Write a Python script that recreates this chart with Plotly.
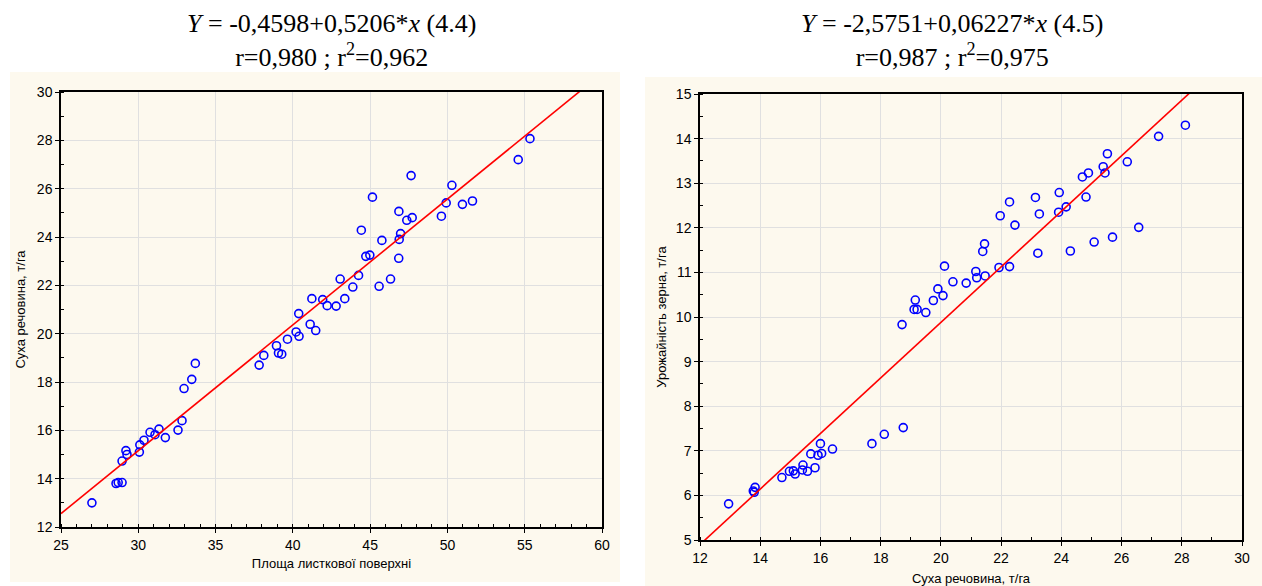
import plotly.graph_objects as go

# ---- Left chart data: leaf area (x) vs dry matter (y) ----
left_x = [27.0, 28.56, 28.7, 28.95, 28.95, 29.2, 29.27, 30.07, 30.1, 30.37, 30.76, 31.08,
          31.34, 31.75, 32.57, 32.83, 32.96, 33.46, 33.69, 37.82, 38.12, 38.94, 39.07, 39.28,
          39.65, 40.21, 40.4, 40.38, 41.12, 41.48, 41.23, 41.93, 42.22, 42.8, 43.36, 43.06,
          43.88, 44.25, 45.58, 46.32, 46.85, 44.72, 44.98, 45.76, 44.43, 46.88, 46.97, 46.86,
          47.37, 47.72, 45.15, 47.65, 49.61, 49.92, 50.29, 50.97, 51.62, 54.58, 55.34]
left_y = [13.0, 13.8, 13.84, 13.84, 14.73, 15.16, 15.0, 15.1, 15.4, 15.59, 15.92, 15.82,
          16.05, 15.7, 16.01, 16.4, 17.73, 18.11, 18.77, 18.7, 19.1, 19.5, 19.2, 19.15,
          19.77, 20.07, 19.89, 20.83, 20.39, 20.13, 21.45, 21.41, 21.16, 21.14, 21.45, 22.26,
          21.93, 22.41, 21.96, 22.26, 23.12, 23.2, 23.25, 23.86, 24.28, 23.9, 24.14, 25.06,
          24.69, 24.8, 25.65, 26.54, 24.86, 25.41, 26.14, 25.35, 25.49, 27.2, 28.07]
left_coef = [-0.4598, 0.5206]          # intercept, slope
left_xrange = [25, 60]
left_yrange = [12, 30]
left_xticks = [25, 30, 35, 40, 45, 50, 55, 60]
left_yticks = [12, 14, 16, 18, 20, 22, 24, 26, 28, 30]

# ---- Right chart data: dry matter (x) vs grain yield (y) ----
right_x = [12.95, 13.77, 13.83, 13.8, 14.72, 14.97, 15.1, 15.16, 15.4, 15.42, 15.57, 15.82,
           15.68, 15.92, 16.04, 16.0, 16.4, 17.71, 18.12, 18.75, 18.71, 19.11, 19.21, 19.15,
           19.5, 19.75, 19.9, 20.07, 20.12, 20.4, 20.84, 21.16, 21.19, 21.47, 21.39, 21.45,
           21.93, 22.28, 21.97, 22.28, 22.46, 23.14, 23.27, 23.22, 23.93, 23.91, 24.16, 24.3,
           24.7, 24.9, 24.82, 25.09, 25.39, 25.45, 25.53, 25.7, 26.19, 26.57, 27.23, 28.12]
right_y = [5.81, 6.10, 6.18, 6.07, 6.40, 6.54, 6.55, 6.48, 6.57, 6.68, 6.54, 6.62,
           6.93, 6.90, 6.94, 7.16, 7.04, 7.16, 7.37, 7.52, 9.83, 10.17, 10.17, 10.38,
           10.1, 10.37, 10.63, 10.48, 11.14, 10.79, 10.76, 11.02, 10.88, 10.92, 11.47, 11.64,
           11.11, 11.13, 12.27, 12.58, 12.06, 12.68, 12.31, 11.43, 12.79, 12.35, 12.47, 11.48,
           13.14, 13.23, 12.69, 11.68, 13.37, 13.23, 13.66, 11.79, 13.48, 12.01, 14.05, 14.3]
right_coef = [-2.5751, 0.6227]         # intercept, slope
right_xrange = [12, 30]
right_yrange = [5, 15]
right_xticks = [12, 14, 16, 18, 20, 22, 24, 26, 28, 30]
right_yticks = [5, 6, 7, 8, 9, 10, 11, 12, 13, 14, 15]

left_title = "<i>Y</i> = -0,4598+0,5206*<i>x</i> (4.4)<br>r=0,980 ; r<sup>2</sup>=0,962"
right_title = "<i>Y</i> = -2,5751+0,06227*<i>x</i> (4.5)<br>r=0,987 ; r<sup>2</sup>=0,975"
left_xlabel = "Площа листкової поверхні"
left_ylabel = "Суха речовина, т/га"
right_xlabel = "Суха речовина, т/га"
right_ylabel = "Урожайність зерна, т/га"

W, H = 1262, 586
BLUE = "#0000FF"
RED = "#FF0000"

fig = go.Figure()

def add_panel(xs, ys, coef, xr, xa, ya):
    fig.add_trace(go.Scatter(x=xs, y=ys, mode="markers", xaxis=xa, yaxis=ya,
                             marker=dict(symbol="circle-open", size=8, color=BLUE,
                                         line=dict(width=1.6, color=BLUE)),
                             showlegend=False, hoverinfo="x+y"))
    lx = [xr[0], xr[1]]
    ly = [coef[0] + coef[1] * v for v in lx]
    fig.add_trace(go.Scatter(x=lx, y=ly, mode="lines", xaxis=xa, yaxis=ya,
                             line=dict(color=RED, width=1.6), showlegend=False,
                             hoverinfo="skip"))

add_panel(left_x, left_y, left_coef, left_xrange, "x", "y")
add_panel(right_x, right_y, right_coef, right_xrange, "x2", "y2")

tickfont = dict(family="Liberation Sans, Arial, sans-serif", size=14, color="#000")
titlefont = dict(family="Liberation Sans, Arial, sans-serif", size=13, color="#000")

def axis_common(rng, ticks, minor_dtick, title, domain, anchor, standoff):
    return dict(range=rng, tickvals=ticks, ticktext=[str(t) for t in ticks],
                domain=domain, anchor=anchor, automargin=False,
                showline=True, linecolor="#000", linewidth=1.5, mirror=True,
                ticks="outside", ticklen=4, tickcolor="#000", tickwidth=1,
                showgrid=True, gridcolor="#E0E0E0", gridwidth=1, zeroline=False,
                tickfont=tickfont,
                minor=dict(dtick=minor_dtick, ticks="inside", ticklen=3,
                           tickcolor="#000", showgrid=False),
                title=dict(text=title, font=titlefont, standoff=standoff),
                fixedrange=True)

L_dom_x = [61 / W, 602 / W]
L_dom_y = [1 - 527 / H, 1 - 92 / H]
R_dom_x = [700 / W, 1242 / W]
R_dom_y = [1 - 540 / H, 1 - 94 / H]

fig.update_layout(
    width=W, height=H,
    margin=dict(l=0, r=0, t=0, b=0),
    paper_bgcolor="#FFFFFF", plot_bgcolor="#FFFFFF",
    xaxis=axis_common(left_xrange, left_xticks, 1, left_xlabel, L_dom_x, "y", 7),
    yaxis=axis_common(left_yrange, left_yticks, 1, left_ylabel, L_dom_y, "x", 8),
    xaxis2=axis_common(right_xrange, right_xticks, 1, right_xlabel, R_dom_x, "y2", 12),
    yaxis2=axis_common(right_yrange, right_yticks, 0.5, right_ylabel, R_dom_y, "x2", 6),
    shapes=[
        dict(type="rect", xref="paper", yref="paper", layer="below",
             x0=10 / W, x1=620 / W, y0=1 - 582 / H, y1=1 - 72 / H,
             fillcolor="#FDF9EE", line=dict(width=0)),
        dict(type="rect", xref="paper", yref="paper", layer="below",
             x0=645 / W, x1=1, y0=0, y1=1 - 77 / H,
             fillcolor="#FDF9EE", line=dict(width=0)),
    ],
    annotations=[
        dict(text=left_title, xref="paper", yref="paper", x=331 / W, y=1 - 40 / H,
             showarrow=False, align="center", xanchor="center", yanchor="middle",
             font=dict(family="Liberation Serif, Times New Roman, serif", size=26, color="#000")),
        dict(text=right_title, xref="paper", yref="paper", x=952 / W, y=1 - 40 / H,
             showarrow=False, align="center", xanchor="center", yanchor="middle",
             font=dict(family="Liberation Serif, Times New Roman, serif", size=26, color="#000")),
    ],
)

fig.write_html("out.html", config={"displayModeBar": False},
               post_script="document.body.style.margin='0';document.body.style.overflow='hidden';")
